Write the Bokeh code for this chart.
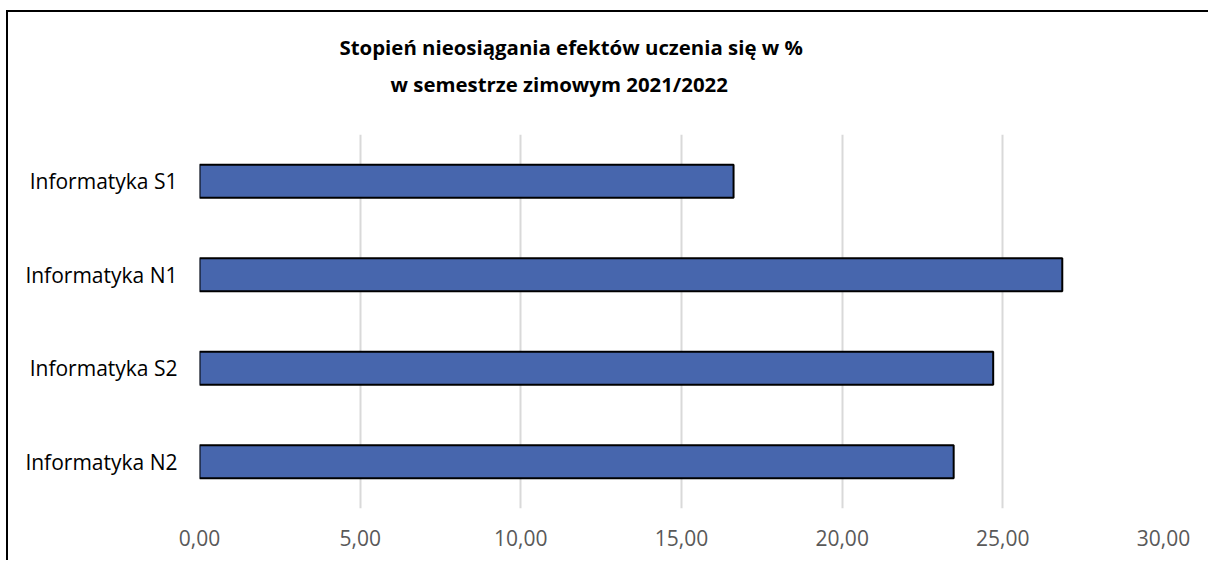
from bokeh.plotting import figure
from bokeh.models import FactorRange, Range1d, Title, ColumnDataSource, FixedTicker
from bokeh.embed import file_html
from bokeh.resources import INLINE

# ---- data ----
categories = ["Informatyka S1", "Informatyka N1", "Informatyka S2", "Informatyka N2"]
values = [16.62, 26.85, 24.70, 23.47]
x_ticks = [0, 5, 10, 15, 20, 25, 30]
x_tick_labels = ["0,00", "5,00", "10,00", "15,00", "20,00", "25,00", "30,00"]
title_line1 = "Stopień nieosiągania efektów uczenia się w %"
title_line2 = "w semestrze zimowym 2021/2022"

FONT = "Open Sans"

src = ColumnDataSource(data=dict(cat=categories, val=values))

p = figure(
    width=1202, height=550,
    y_range=FactorRange(factors=list(reversed(categories))),
    x_range=Range1d(0, 30),
    output_backend="svg", toolbar_location=None, title=None,
    min_border_left=191, min_border_right=47, min_border_top=122, min_border_bottom=54,
)
p.styles = {"margin-top": "12px", "margin-left": "8px",
            "box-shadow": "-2px -2px 0 0 #000000"}

# spacer between frame and title block
t0 = Title(text=" ", text_font_size="1px", standoff=30)
t2 = Title(text=title_line2, align="left", offset=191, text_font=FONT,
           text_font_size="20.4px", text_font_style="bold", text_color="#000000", standoff=7)
t1 = Title(text=title_line1, align="left", offset=140, text_font=FONT,
           text_font_size="20.4px", text_font_style="bold", text_color="#000000", standoff=7)
p.add_layout(t0, "above")
p.add_layout(t2, "above")
p.add_layout(t1, "above")

p.hbar(y="cat", left=0, right="val", height=0.355, source=src,
       fill_color="#4766AD", line_color="#000000", line_width=2)

p.outline_line_color = None
p.background_fill_color = "#ffffff"
p.border_fill_color = "#ffffff"

p.xgrid.grid_line_color = "#D9D9D9"
p.xgrid.grid_line_width = 2
p.ygrid.grid_line_color = None

p.xaxis.ticker = FixedTicker(ticks=x_ticks)
p.xaxis.major_label_overrides = {t: lab for t, lab in zip(x_ticks, x_tick_labels)}
p.xaxis.axis_line_color = None
p.xaxis.major_tick_line_color = None
p.xaxis.minor_tick_line_color = None
p.xaxis.major_tick_out = 0
p.xaxis.major_label_standoff = 21
p.xaxis.major_label_text_font = FONT
p.xaxis.major_label_text_font_size = "21px"
p.xaxis.major_label_text_color = "#595959"

p.yaxis.axis_line_color = None
p.yaxis.major_tick_line_color = None
p.yaxis.minor_tick_line_color = None
p.yaxis.major_tick_out = 0
p.yaxis.major_label_standoff = 22
p.yaxis.major_label_text_font = FONT
p.yaxis.major_label_text_font_size = "21px"
p.yaxis.major_label_text_color = "#000000"

open("out.html", "w").write(file_html(p, INLINE))
